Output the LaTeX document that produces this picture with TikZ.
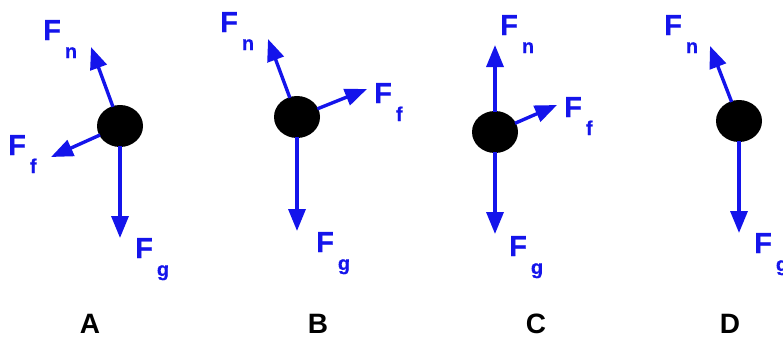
\documentclass[tikz,border=0pt]{standalone}
\usepackage{fontspec}
\setmainfont{Liberation Sans}
\usetikzlibrary{arrows.meta,shapes.geometric}
\definecolor{fblue}{RGB}{20,20,235}
\newcommand\mysub[1]{\hspace{4pt}\raisebox{-18pt}{\fontsize{20}{20}\selectfont #1}}
\tikzset{
  ball/.style={ellipse, fill=black, draw=none, minimum width=46pt, minimum height=42pt, inner sep=0pt},
  force/.style={draw=fblue, line width=3.4pt, -{Triangle[length=22pt,width=17pt]}, shorten <=-1pt},
  lab/.style={text=fblue, font=\bfseries\fontsize{29}{29}\selectfont\addfontfeature{FakeBold=0.5}, inner sep=0pt, anchor=base west},
  letter/.style={text=black, font=\bfseries\fontsize{28}{28}\selectfont, inner sep=0pt, anchor=base}
}
\begin{document}
\begin{tikzpicture}[x=1pt,y=-1pt]
\useasboundingbox (0,0) rectangle (783,343);
% Panel A
\node[ball] (bA) at (120,126) {};
\coordinate (tAn) at (91,47);
\coordinate (tAf) at (51,157);
\coordinate (tAg) at (120,238);
\draw[force] (bA) -- (tAn);
\draw[force] (bA) -- (tAf);
\draw[force] (bA) -- (tAg);
\node[lab] (lAn) at (43,40) {F\mysub{n}};
\node[lab] (lAf) at (8,155) {F\mysub{f}};
\node[lab] (lAg) at (135,258) {F\mysub{g}};
% Panel B
\node[ball] (bB) at (297,117) {};
\coordinate (tBn) at (268,39);
\coordinate (tBf) at (367,89);
\coordinate (tBg) at (297,231);
\draw[force] (bB) -- (tBn);
\draw[force] (bB) -- (tBf);
\draw[force] (bB) -- (tBg);
\node[lab] (lBn) at (220,32) {F\mysub{n}};
\node[lab] (lBf) at (374,103) {F\mysub{f}};
\node[lab] (lBg) at (316,252) {F\mysub{g}};
% Panel C
\node[ball] (bC) at (495,132) {};
\coordinate (tCn) at (495,45);
\coordinate (tCf) at (557,105);
\coordinate (tCg) at (495,234);
\draw[force] (bC) -- (tCn);
\draw[force] (bC) -- (tCf);
\draw[force] (bC) -- (tCg);
\node[lab] (lCn) at (500,35) {F\mysub{n}};
\node[lab] (lCf) at (564,117) {F\mysub{f}};
\node[lab] (lCg) at (509,256) {F\mysub{g}};
% Panel D
\node[ball] (bD) at (739,121) {};
\coordinate (tDn) at (710,46);
\coordinate (tDg) at (739,233);
\draw[force] (bD) -- (tDn);
\draw[force] (bD) -- (tDg);
\node[lab] (lDn) at (664,35) {F\mysub{n}};
\node[lab] (lDg) at (754,253) {F\mysub{g}};
% Letters
\node[letter] (A) at (90,333) {A};
\node[letter] (B) at (318,333) {B};
\node[letter] (C) at (536,333) {C};
\node[letter] (D) at (730,333) {D};
\end{tikzpicture}
\end{document}
